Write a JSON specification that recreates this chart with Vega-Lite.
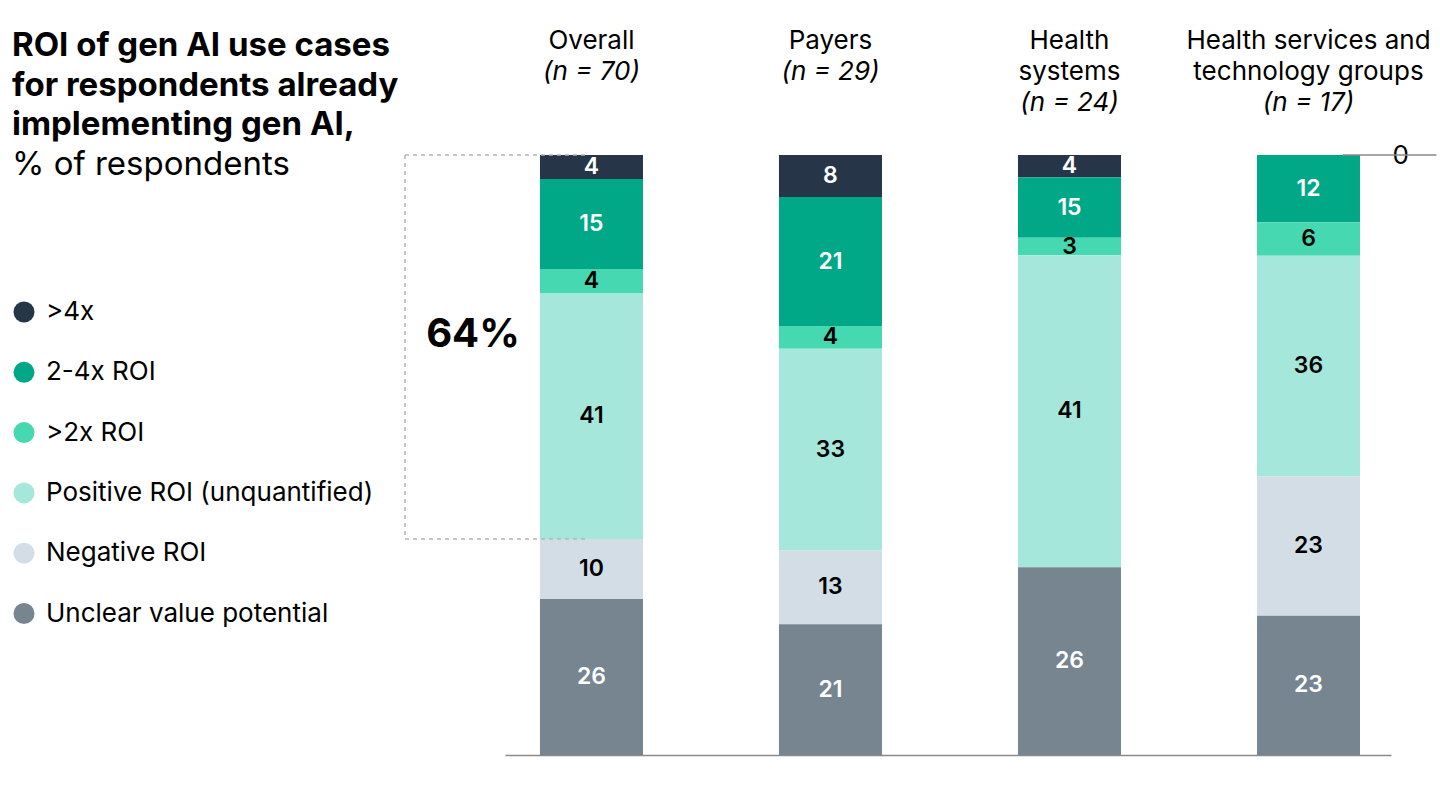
{
  "$schema": "https://vega.github.io/schema/vega-lite/v6.json",
  "width": 886,
  "height": 750,
  "autosize": {"type": "pad"},
  "padding": {"left": 11, "top": 5, "right": 20, "bottom": 20},
  "background": "white",
  "config": {"font": "Inter", "view": {"stroke": null}},
  "title": {
    "text": ["ROI of gen AI use cases", "for respondents already", "implementing gen AI,"],
    "subtitle": "% of respondents",
    "anchor": "start",
    "frame": "group",
    "orient": "top",
    "offset": 0,
    "dx": -493,
    "dy": 177,
    "font": "Inter",
    "fontSize": 33,
    "fontWeight": "bold",
    "lineHeight": 39.5,
    "color": "#000000",
    "subtitleFont": "Inter",
    "subtitleFontSize": 33,
    "subtitleFontWeight": "normal",
    "subtitleLineHeight": 39.5,
    "subtitleColor": "#000000",
    "subtitlePadding": 7
  },
  "datasets": {
    "bars": [
      {"cat": "Overall", "level": ">4x", "k": 1, "share": 4, "pct": 4},
      {"cat": "Overall", "level": "2-4x ROI", "k": 2, "share": 15, "pct": 15},
      {"cat": "Overall", "level": ">2x ROI", "k": 3, "share": 4, "pct": 4},
      {"cat": "Overall", "level": "Positive ROI (unquantified)", "k": 4, "share": 41, "pct": 41},
      {"cat": "Overall", "level": "Negative ROI", "k": 5, "share": 10, "pct": 10},
      {"cat": "Overall", "level": "Unclear value potential", "k": 6, "share": 26, "pct": 26},
      {"cat": "Payers", "level": ">4x", "k": 1, "share": 7, "pct": 8},
      {"cat": "Payers", "level": "2-4x ROI", "k": 2, "share": 21.5, "pct": 21},
      {"cat": "Payers", "level": ">2x ROI", "k": 3, "share": 3.8, "pct": 4},
      {"cat": "Payers", "level": "Positive ROI (unquantified)", "k": 4, "share": 33.6, "pct": 33},
      {"cat": "Payers", "level": "Negative ROI", "k": 5, "share": 12.3, "pct": 13},
      {"cat": "Payers", "level": "Unclear value potential", "k": 6, "share": 21.8, "pct": 21},
      {"cat": "Health systems", "level": ">4x", "k": 1, "share": 3.7, "pct": 4},
      {"cat": "Health systems", "level": "2-4x ROI", "k": 2, "share": 10.1, "pct": 15},
      {"cat": "Health systems", "level": ">2x ROI", "k": 3, "share": 2.9, "pct": 3},
      {"cat": "Health systems", "level": "Positive ROI (unquantified)", "k": 4, "share": 52, "pct": 41},
      {"cat": "Health systems", "level": "Unclear value potential", "k": 6, "share": 31.3, "pct": 26},
      {"cat": "Health services and technology groups", "level": "2-4x ROI", "k": 2, "share": 11.2, "pct": 12},
      {"cat": "Health services and technology groups", "level": ">2x ROI", "k": 3, "share": 5.6, "pct": 6},
      {"cat": "Health services and technology groups", "level": "Positive ROI (unquantified)", "k": 4, "share": 36.8, "pct": 36},
      {"cat": "Health services and technology groups", "level": "Negative ROI", "k": 5, "share": 23.2, "pct": 23},
      {"cat": "Health services and technology groups", "level": "Unclear value potential", "k": 6, "share": 23.2, "pct": 23}
    ],
    "headers": [
      {"cat": "Overall", "name": "Overall", "n": "(n = 70)"},
      {"cat": "Payers", "name": "Payers", "n": "(n = 29)"},
      {"cat": "Health systems", "name": "Health\nsystems", "n": "(n = 24)"},
      {"cat": "Health services and technology groups", "name": "Health services and\ntechnology groups", "n": "(n = 17)"}
    ],
    "bracket": [
      {"cat": "Overall", "from": 0, "to": 64, "label": "64%", "labelPos": 30}
    ]
  },
  "layer": [
    {
      "data": {"name": "bars"},
      "mark": {"type": "bar"},
      "encoding": {
        "x": {
          "field": "cat", "type": "nominal", "sort": null,
          "scale": {"domain": ["Overall", "Payers", "Health systems", "Health services and technology groups"], "paddingInner": 0.569, "paddingOuter": 0.138, "align": 0.53},
          "axis": {"orient": "bottom", "labels": false, "ticks": false, "title": null, "domain": true, "domainColor": "#8a8a8a", "domainWidth": 1.5}
        },
        "y": {
          "field": "share", "type": "quantitative", "stack": "zero",
          "scale": {"domain": [-25, 100], "reverse": true, "nice": false, "zero": false},
          "axis": {"orient": "right", "values": [0], "domain": false, "grid": false, "ticks": false, "title": null, "labelFontSize": 26, "labelColor": "#000000", "labelPadding": 1, "labelFont": "Inter"}
        },
        "order": {"field": "k", "type": "quantitative"},
        "color": {
          "field": "level", "type": "nominal",
          "scale": {
            "domain": [">4x", "2-4x ROI", ">2x ROI", "Positive ROI (unquantified)", "Negative ROI", "Unclear value potential"],
            "range": ["#263648", "#00a887", "#46d8b0", "#a6e7db", "#d3dde6", "#778590"]
          },
          "legend": {
            "orient": "none", "legendX": -494, "legendY": 294, "direction": "vertical",
            "title": null, "symbolType": "circle", "symbolSize": 441, "symbolStrokeWidth": 0, "symbolOpacity": 1,
            "labelFontSize": 26, "labelColor": "#000000", "labelFont": "Inter", "labelOffset": 9, "labelLimit": 500, "rowPadding": 34.3, "padding": 0
          }
        }
      }
    },
    {
      "data": {"name": "bars"},
      "mark": {"type": "text", "fontSize": 23, "fontWeight": 600, "align": "center", "baseline": "middle", "dy": {"expr": "-datum.share * 3"}},
      "encoding": {
        "x": {"field": "cat", "type": "nominal", "sort": null},
        "y": {"field": "share", "type": "quantitative", "stack": "zero"},
        "order": {"field": "k", "type": "quantitative"},
        "detail": {"field": "level", "type": "nominal"},
        "text": {"field": "pct", "type": "quantitative"},
        "color": {
          "condition": {"test": "datum.level === '>2x ROI' || datum.level === 'Positive ROI (unquantified)' || datum.level === 'Negative ROI'", "value": "#000000"},
          "value": "#ffffff"
        }
      }
    },
    {
      "data": {"name": "headers"},
      "mark": {"type": "text", "fontSize": 26, "align": "center", "baseline": "alphabetic", "lineBreak": "\n", "lineHeight": 31, "color": "#000000"},
      "encoding": {
        "x": {"field": "cat", "type": "nominal", "sort": null},
        "y": {"datum": -17.75},
        "text": {"field": "name", "type": "nominal"}
      }
    },
    {
      "data": {"name": "headers"},
      "mark": {"type": "text", "fontSize": 26, "fontStyle": "italic", "align": "center", "baseline": "alphabetic", "color": "#000000", "dy": {"expr": "length(split(datum.name, '\\n')) * 31"}},
      "encoding": {
        "x": {"field": "cat", "type": "nominal", "sort": null},
        "y": {"datum": -17.75},
        "text": {"field": "n", "type": "nominal"}
      }
    },
    {
      "data": {"name": "bracket"},
      "mark": {"type": "rule", "stroke": "#b5b5b5", "strokeWidth": 1.5, "strokeDash": [4, 4], "xOffset": -135},
      "encoding": {
        "x": {"field": "cat", "type": "nominal", "bandPosition": 0},
        "y": {"field": "from", "type": "quantitative"},
        "y2": {"field": "to"}
      }
    },
    {
      "data": {"name": "bracket"},
      "mark": {"type": "rule", "stroke": "#b5b5b5", "strokeWidth": 1.5, "strokeDash": [4, 4], "xOffset": -135, "x2Offset": -5},
      "encoding": {
        "x": {"field": "cat", "type": "nominal", "bandPosition": 0},
        "x2": {"field": "cat"},
        "y": {"field": "from", "type": "quantitative"}
      }
    },
    {
      "data": {"name": "bracket"},
      "mark": {"type": "rule", "stroke": "#b5b5b5", "strokeWidth": 1.5, "strokeDash": [4, 4], "xOffset": -135, "x2Offset": -5},
      "encoding": {
        "x": {"field": "cat", "type": "nominal", "bandPosition": 0},
        "x2": {"field": "cat"},
        "y": {"field": "to", "type": "quantitative"}
      }
    },
    {
      "data": {"name": "bracket"},
      "mark": {"type": "text", "fontSize": 40, "fontWeight": "bold", "align": "center", "baseline": "middle", "dx": -67, "color": "#000000"},
      "encoding": {
        "x": {"field": "cat", "type": "nominal", "bandPosition": 0},
        "y": {"field": "labelPos", "type": "quantitative"},
        "text": {"field": "label", "type": "nominal"}
      }
    },
    {
      "data": {"name": "bracket"},
      "mark": {"type": "rule", "stroke": "#8a8a8a", "strokeWidth": 1.5, "xOffset": 803, "x2Offset": 845},
      "encoding": {
        "x": {"field": "cat", "type": "nominal", "bandPosition": 0},
        "x2": {"field": "cat"},
        "y": {"field": "from", "type": "quantitative"}
      }
    }
  ]
}
